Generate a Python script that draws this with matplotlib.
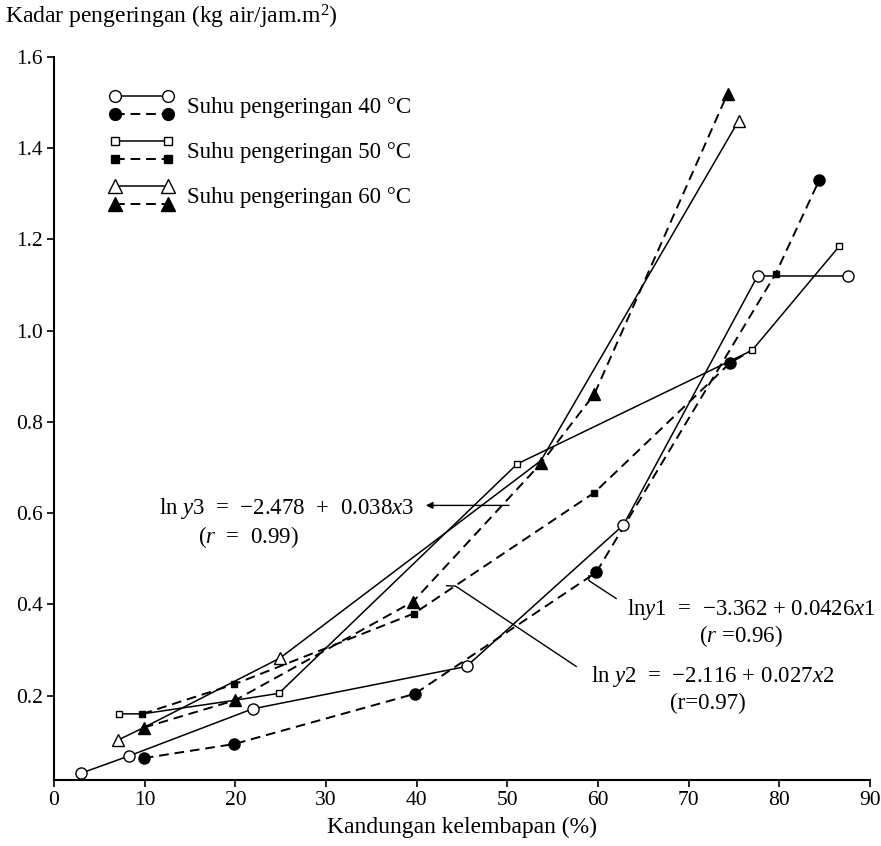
import matplotlib
matplotlib.use('Agg')
import matplotlib.pyplot as plt
from matplotlib.lines import Line2D
from matplotlib.legend_handler import HandlerBase

plt.rcParams['font.family'] = ['Liberation Serif', 'DejaVu Serif']
plt.rcParams['mathtext.fontset'] = 'custom'
plt.rcParams['mathtext.rm'] = 'Liberation Serif'
plt.rcParams['mathtext.it'] = 'Liberation Serif:italic'

# measured points (read off the scanned figure)
# 40 C
x40_open = [3.0, 8.3, 21.9, 45.5, 62.8, 77.6, 87.6]
y40_open = [0.030, 0.068, 0.171, 0.264, 0.574, 1.120, 1.120]
x40_fill = [9.9, 19.9, 39.8, 59.8, 74.6, 84.4]
y40_fill = [0.063, 0.094, 0.204, 0.470, 0.930, 1.330]
# 50 C
x50_open = [7.2, 24.8, 51.1, 77.0, 86.6]
y50_open = [0.160, 0.205, 0.708, 0.957, 1.185]
x50_fill = [9.75, 19.9, 39.7, 59.6, 79.6]
y50_fill = [0.160, 0.225, 0.380, 0.645, 1.125]
# 60 C
x60_open = [7.1, 24.9, 75.5]
y60_open = [0.103, 0.282, 1.460]
x60_fill = [9.9, 20.0, 39.6, 53.7, 59.6, 74.3]
y60_fill = [0.130, 0.190, 0.406, 0.709, 0.861, 1.520]

# line paths as they are drawn in the figure
line40_solid_x = x40_open
line40_solid_y = y40_open
line40_dash_x = [9.9, 19.9, 39.8, 59.8, 79.6, 84.4]
line40_dash_y = [0.063, 0.094, 0.204, 0.470, 1.125, 1.330]
line50_solid_x = [7.2, 9.75, 20.0, 24.8, 51.1, 77.0, 86.6]
line50_solid_y = [0.160, 0.160, 0.190, 0.205, 0.708, 0.957, 1.185]
line50_dash_x = [9.75, 19.9, 39.7, 59.6, 74.6, 77.0]
line50_dash_y = [0.160, 0.225, 0.380, 0.645, 0.930, 0.957]
line60_solid_x = [7.1, 9.9, 24.9, 53.7, 75.5]
line60_solid_y = [0.103, 0.130, 0.282, 0.715, 1.460]
line60_dash_x = x60_fill
line60_dash_y = y60_fill

xticks = [0, 10, 20, 30, 40, 50, 60, 70, 80, 90]
yticks = [0.2, 0.4, 0.6, 0.8, 1.0, 1.2, 1.4, 1.6]
labels = ['Suhu pengeringan 40 °C', 'Suhu pengeringan 50 °C', 'Suhu pengeringan 60 °C']

FS = 16.5      # legend / equations
FS_TICK = 15.5
FS_LAB = 17
DASH = (0, (5, 3))

fig = plt.figure(figsize=(8.81, 8.46), dpi=100)
ax = fig.add_axes([0.0613, 0.078, 0.9262, 0.8546])

solid = dict(color='k', lw=1.1)
dash = dict(color='k', lw=1.4, ls=DASH)
ax.plot(line40_solid_x, line40_solid_y, **solid)
ax.plot(line40_dash_x, line40_dash_y, **dash)
ax.plot(line50_solid_x, line50_solid_y, **solid)
ax.plot(line50_dash_x, line50_dash_y, **dash)
ax.plot(line60_solid_x, line60_solid_y, **solid)
ax.plot(line60_dash_x, line60_dash_y, **dash)

mk = dict(ls='none', mec='k', mew=1.0, zorder=3)
ax.plot(x40_open, y40_open, marker='o', mfc='white', ms=8, **mk)
ax.plot(x40_fill, y40_fill, marker='o', mfc='k', ms=8, **mk)
ax.plot(x50_open, y50_open, marker='s', mfc='white', ms=5, **mk)
ax.plot(x50_fill, y50_fill, marker='s', mfc='k', ms=5, **mk)
ax.plot(x60_open, y60_open, marker='^', mfc='white', ms=9, **mk)
ax.plot(x60_fill, y60_fill, marker='^', mfc='k', ms=9, **mk)

# equations + leader lines
ax.annotate('', xy=(40.7, 0.617), xytext=(50.5, 0.617),
            arrowprops=dict(arrowstyle='-|>', color='k', lw=1.0, mutation_scale=10))
ax.text(39.7, 0.598, r'ln $\mathit{y3}$  =  −2.478  +  0.038$\mathit{x3}$', ha='right', va='baseline', fontsize=FS)
ax.text(21.5, 0.535, r'($\mathit{r}$  =  0.99)', ha='center', va='baseline', fontsize=FS)

ax.plot([59.0, 59.0, 62.0], [0.463, 0.452, 0.413], color='k', lw=1.0)
ax.text(63.2, 0.377, r'ln$\mathit{y1}$  =  −3.362 + 0.0426$\mathit{x1}$', ha='left', va='baseline', fontsize=FS)
ax.text(75.8, 0.318, r'($\mathit{r}$ =0.96)', ha='center', va='baseline', fontsize=FS)

ax.plot([43.3, 44.3, 57.6], [0.441, 0.440, 0.264], color='k', lw=1.0)
ax.text(59.2, 0.230, r'ln $\mathit{y2}$  =  −2.116 + 0.027$\mathit{x2}$', ha='left', va='baseline', fontsize=FS)
ax.text(72.1, 0.170, '(r=0.97)', ha='center', va='baseline', fontsize=FS)


class PairHandler(HandlerBase):
    # two stacked sample lines per legend entry
    def create_artists(self, legend, orig_handle, xdescent, ydescent,
                       width, height, fontsize, trans):
        out = []
        for h, yy in zip(orig_handle, (height, 0.0)):
            ln = Line2D([-xdescent, width - xdescent], [yy - ydescent] * 2)
            ln.update_from(h)
            ln.set_transform(trans)
            out.append(ln)
        return out


def proxy(marker, fc, ls, lw, ms):
    return Line2D([], [], color='k', marker=marker, mfc=fc, mec='k', ls=ls, lw=lw, ms=ms)


handles = [
    (proxy('o', 'white', '-', 1.1, 8.5), proxy('o', 'k', DASH, 1.4, 8.5)),
    (proxy('s', 'white', '-', 1.1, 5.5), proxy('s', 'k', DASH, 1.4, 5.5)),
    (proxy('^', 'white', '-', 1.1, 9.5), proxy('^', 'k', DASH, 1.4, 9.5)),
]
ax.legend(handles, labels, handler_map={tuple: PairHandler()}, frameon=False,
          loc='upper left', bbox_to_anchor=(115 / 881, 1 - 96 / 846),
          bbox_transform=fig.transFigure, borderpad=0, borderaxespad=0,
          fontsize=FS, handlelength=2.31, handleheight=0.83, labelspacing=1.0,
          handletextpad=0.83)

ax.set_xlim(0, 90)
ax.set_ylim(0.015, 1.6)
ax.set_xticks(xticks)
ax.set_yticks(yticks)
ax.set_yticklabels([f'{v:.1f}' for v in yticks])
ax.spines['top'].set_visible(False)
ax.spines['right'].set_visible(False)
ax.spines['left'].set_linewidth(1.5)
ax.spines['bottom'].set_linewidth(1.5)
ax.tick_params(direction='out', length=5, width=1.2, labelsize=FS_TICK, pad=3)

ax.set_xlabel('Kandungan kelembapan (%)', fontsize=FS_LAB, labelpad=5)
fig.text(5 / 881, 1 - 17 / 846, 'Kadar pengeringan (kg air/jam.m$^2$)', ha='left', va='center', fontsize=FS_LAB)

fig.savefig('out.png', dpi=100)
